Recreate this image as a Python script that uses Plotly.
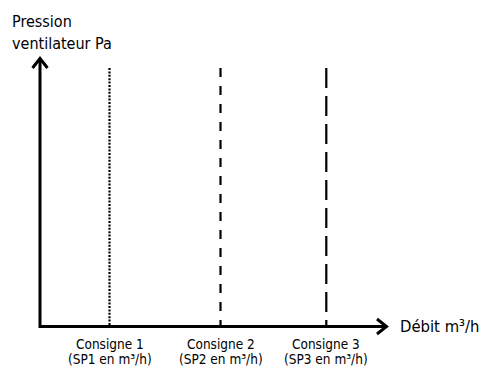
import plotly.graph_objects as go

W, H = 479, 367

# Data
setpoint_flow = [0.695, 1.805, 2.863]        # x positions of the set points (axis units)
setpoint_top = [1.0, 1.0, 1.0]                # top of the vertical set-point lines
setpoint_names = ["Consigne 1", "Consigne 2", "Consigne 3"]
setpoint_units = ["(SP1 en m³/h)", "(SP2 en m³/h)", "(SP3 en m³/h)"]
setpoint_dash = ["2px,1.4px", "9px,9px", "20px,8px"]
y_title = ["Pression", "ventilateur Pa"]
x_title = "Débit m³/h"

# pixel <-> data mapping (plot area covers whole figure)
X0PX, XS = 40.0, 100.0      # px of x=0, px per unit
Y0PX, YS = 326.5, 258.5     # px of y=0, px per unit
def dx(px): return (px - X0PX) / XS
def dy(py): return (Y0PX - py) / YS

FONT = "DejaVu Sans Condensed, Liberation Sans Narrow, Arial Narrow, sans-serif"

fig = go.Figure()
for xv, top, dash in zip(setpoint_flow, setpoint_top, setpoint_dash):
    fig.add_trace(go.Scatter(x=[xv, xv], y=[top, 0], mode="lines",
                             line=dict(color="black", width=2.2, dash=dash),
                             hoverinfo="skip", showlegend=False))

# axes with chevron arrows
axis_color = "black"
fig.add_trace(go.Scatter(x=[dx(40), dx(40), dx(386)], y=[dy(59), dy(326.5), dy(326.5)],
                         mode="lines", line=dict(color=axis_color, width=3),
                         hoverinfo="skip", showlegend=False))
fig.add_trace(go.Scatter(x=[dx(32.5), dx(40), dx(47.5)], y=[dy(68), dy(58.5), dy(68)],
                         mode="lines", line=dict(color=axis_color, width=3),
                         hoverinfo="skip", showlegend=False))
fig.add_trace(go.Scatter(x=[dx(377), dx(386.5), dx(377)], y=[dy(319), dy(326.5), dy(334)],
                         mode="lines", line=dict(color=axis_color, width=3),
                         hoverinfo="skip", showlegend=False))

ann = []
ann.append(dict(x=10 / W, y=1 - 10 / H, text=y_title[0]))
ann.append(dict(x=10 / W, y=1 - 32 / H, text=y_title[1]))
ann = [dict(a, xref="paper", yref="paper", xanchor="left", yanchor="top",
            showarrow=False, font=dict(family=FONT, size=16, color="black")) for a in ann]
ann.append(dict(x=dx(398), y=dy(326), xref="x", yref="y", xanchor="left", yanchor="middle",
                text=x_title, showarrow=False, font=dict(family=FONT, size=16.5, color="black")))
for xv, n, u in zip(setpoint_flow, setpoint_names, setpoint_units):
    ann.append(dict(x=xv, y=dy(333.5), xref="x", yref="y", xanchor="center", yanchor="top",
                    text=n, showarrow=False, font=dict(family=FONT, size=13.5, color="black")))
    ann.append(dict(x=xv, y=dy(348.5), xref="x", yref="y", xanchor="center", yanchor="top",
                    text=u, showarrow=False, font=dict(family=FONT, size=13.5, color="black")))

fig.update_layout(
    width=W, height=H, margin=dict(l=0, r=0, t=0, b=0),
    paper_bgcolor="white", plot_bgcolor="white",
    xaxis=dict(range=[dx(0), dx(W)], visible=False, fixedrange=True),
    yaxis=dict(range=[dy(H), dy(0)], visible=False, fixedrange=True),
    annotations=ann,
)
fig.write_html("out.html", config={"displayModeBar": False},
               post_script="document.body.style.margin='0';document.body.style.overflow='hidden';")
